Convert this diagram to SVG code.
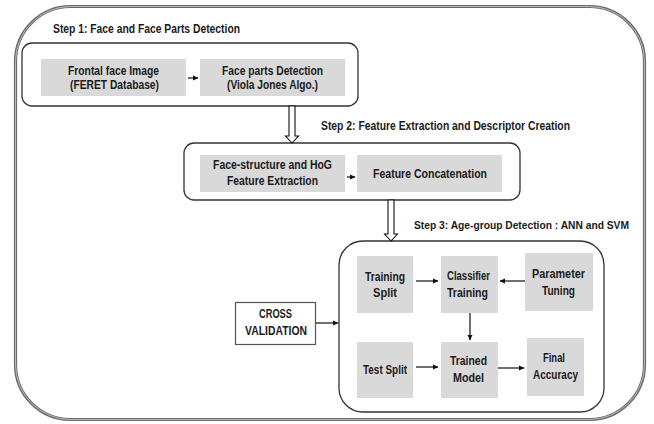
<svg xmlns="http://www.w3.org/2000/svg" width="654" height="424" viewBox="0 0 654 424">
<defs>
<marker id="ah" markerWidth="6" markerHeight="6" refX="5" refY="3" orient="auto" markerUnits="userSpaceOnUse">
<path d="M0,0.5 L5.5,3 L0,5.5 Z" fill="#111"/>
</marker>
<style>
.t{font-family:"Liberation Sans",Arial,sans-serif;font-weight:bold;font-size:12px;fill:#1a1a1a}
.s{font-size:11px}
.g{fill:#d9d9d9;stroke:none}
.grp{fill:#fff;stroke:#333;stroke-width:1.3}
.c{stroke:#111;stroke-width:1.2;fill:none;marker-end:url(#ah)}
.h{fill:#fff;stroke:#111;stroke-width:1.1}
</style>
</defs>
<rect width="654" height="424" fill="#fff"/>
<g id="outer">
<rect x="15.5" y="6.5" width="629" height="413" rx="55" fill="none" stroke="#6a6a6a" stroke-width="3.2"/>
<rect x="15.5" y="6.5" width="629" height="413" rx="55" fill="none" stroke="#cfcfcf" stroke-width="0.8"/>
</g>
<g id="step1">
<text class="t" x="53" y="33" textLength="187" lengthAdjust="spacingAndGlyphs">Step 1: Face and Face Parts Detection</text>
<rect class="grp" x="22" y="43" width="336" height="63" rx="10"/>
</g>
<g id="frontal">
<rect class="g" x="41" y="59" width="145" height="37"/>
<text class="t" x="68" y="75" textLength="91" lengthAdjust="spacingAndGlyphs">Frontal face Image</text>
<text class="t" x="70" y="89" textLength="89" lengthAdjust="spacingAndGlyphs">(FERET Database)</text>
</g>
<g id="faceparts">
<rect class="g" x="200" y="59" width="145" height="37"/>
<text class="t" x="222" y="75" textLength="101" lengthAdjust="spacingAndGlyphs">Face parts Detection</text>
<text class="t" x="227" y="89" textLength="91" lengthAdjust="spacingAndGlyphs">(Viola Jones Algo.)</text>
</g>
<g id="step2">
<text class="t" x="321" y="130" textLength="249" lengthAdjust="spacingAndGlyphs">Step 2: Feature Extraction and Descriptor Creation</text>
<rect class="grp" x="184" y="143" width="336" height="57" rx="10"/>
</g>
<g id="hog">
<rect class="g" x="200" y="155" width="145" height="37"/>
<text class="t" x="213" y="169" textLength="119" lengthAdjust="spacingAndGlyphs">Face-structure and HoG</text>
<text class="t" x="227" y="185" textLength="91" lengthAdjust="spacingAndGlyphs">Feature Extraction</text>
</g>
<g id="concat">
<rect class="g" x="357" y="155" width="145" height="37"/>
<text class="t" x="373" y="178" textLength="114" lengthAdjust="spacingAndGlyphs">Feature Concatenation</text>
</g>
<g id="step3">
<text class="t s" x="414" y="229" textLength="215" lengthAdjust="spacingAndGlyphs">Step 3: Age-group Detection : ANN and SVM</text>
<rect class="grp" x="339" y="241" width="265" height="171" rx="24"/>
</g>
<g id="trainsplit">
<rect class="g" x="357" y="256" width="56" height="57"/>
<text class="t" x="365" y="281" textLength="40" lengthAdjust="spacingAndGlyphs">Training</text>
<text class="t" x="373" y="297" textLength="24" lengthAdjust="spacingAndGlyphs">Split</text>
</g>
<g id="classifier">
<rect class="g" x="441" y="256" width="57" height="57"/>
<text class="t" x="447" y="280" textLength="43" lengthAdjust="spacingAndGlyphs">Classifier</text>
<text class="t" x="447" y="297" textLength="41" lengthAdjust="spacingAndGlyphs">Training</text>
</g>
<g id="param">
<rect class="g" x="525" y="253" width="68" height="58"/>
<text class="t" x="532" y="278" textLength="53" lengthAdjust="spacingAndGlyphs">Parameter</text>
<text class="t" x="542" y="295" textLength="33" lengthAdjust="spacingAndGlyphs">Tuning</text>
</g>
<g id="testsplit">
<rect class="g" x="357" y="342" width="56" height="56"/>
<text class="t" x="363" y="374" textLength="44" lengthAdjust="spacingAndGlyphs">Test Split</text>
</g>
<g id="trained">
<rect class="g" x="441" y="342" width="57" height="56"/>
<text class="t" x="450" y="365" textLength="37" lengthAdjust="spacingAndGlyphs">Trained</text>
<text class="t" x="453" y="382" textLength="31" lengthAdjust="spacingAndGlyphs">Model</text>
</g>
<g id="final">
<rect class="g" x="527" y="338" width="57" height="58"/>
<text class="t" x="543" y="362" textLength="22" lengthAdjust="spacingAndGlyphs">Final</text>
<text class="t" x="533" y="379" textLength="45" lengthAdjust="spacingAndGlyphs">Accuracy</text>
</g>
<g id="crossval">
<rect x="235.5" y="302.5" width="80" height="42" fill="#fff" stroke="#555" stroke-width="1.2"/>
<text class="t" x="259" y="318" textLength="33" lengthAdjust="spacingAndGlyphs">CROSS</text>
<text class="t" x="245" y="335" textLength="62" lengthAdjust="spacingAndGlyphs">VALIDATION</text>
</g>
<g id="connectors">
<line class="c" x1="188" y1="78" x2="198" y2="78"/>
<line class="c" x1="347" y1="177" x2="355" y2="177"/>
<polygon class="h" points="289,106 295,106 295,136 298.5,136 292,143 285.5,136 289,136"/>
<polygon class="h" points="388,200 394,200 394,234 397.5,234 391,241 384.5,234 388,234"/>
<line class="c" x1="416" y1="281" x2="438" y2="281"/>
<line class="c" x1="525" y1="281" x2="500" y2="281"/>
<line class="c" x1="470" y1="313" x2="470" y2="340"/>
<line class="c" x1="416" y1="367" x2="438" y2="367"/>
<line class="c" x1="498" y1="368" x2="524" y2="368"/>
<line class="c" x1="316" y1="323" x2="338" y2="323"/>
</g>
</svg>
